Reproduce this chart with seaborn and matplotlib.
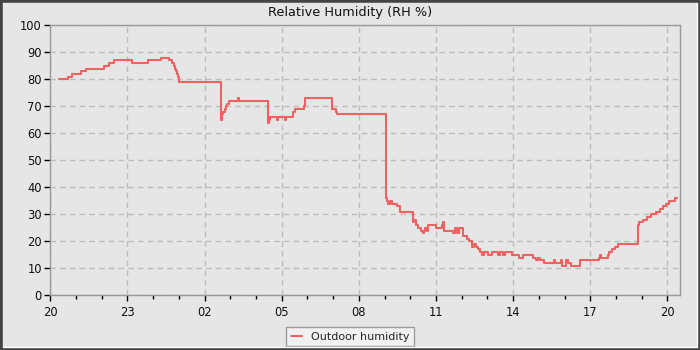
import numpy as np
import pandas as pd
import matplotlib
matplotlib.use("Agg")
import matplotlib.pyplot as plt
import matplotlib.dates as mdates
from matplotlib.patches import Rectangle
from matplotlib.lines import Line2D
import seaborn as sns

# hours since 20:00 on the first day
hours = [0.34, 0.68, 0.86, 1.18, 1.38, 2.10, 2.28, 2.48, 3.19, 3.79, 4.31, 4.63, 4.73, 4.81,
         4.85, 4.89, 4.93, 4.97, 5.00, 5.02, 6.63, 6.66, 6.68, 6.72, 6.80, 6.85, 6.89, 6.95,
         7.28, 7.32, 8.47, 8.51, 8.55, 8.82, 8.86, 9.13, 9.17, 9.43, 9.52, 9.88, 9.92,
         10.96, 11.10, 11.15, 13.06, 13.11, 13.15, 13.21, 13.29, 13.49, 13.60, 14.10, 14.15,
         14.22, 14.29, 14.41, 14.49, 14.54, 14.59, 14.64, 14.67, 14.99, 15.22, 15.29, 15.32,
         15.65, 15.74, 15.82, 15.90, 16.04, 16.20, 16.30, 16.41, 16.48, 16.56, 16.65, 16.71,
         16.79, 16.87, 17.02, 17.18, 17.41, 17.47, 17.61, 17.67, 17.95, 18.23, 18.37, 18.76,
         18.87, 18.96, 19.05, 19.20, 19.57, 19.61, 19.85, 19.89, 20.06, 20.14, 20.24, 20.58,
         21.34, 21.38, 21.42, 21.68, 21.74, 21.84, 21.96, 22.07, 22.86, 22.90, 23.06, 23.21,
         23.36, 23.56, 23.71, 23.82, 23.94, 24.06, 24.31, 24.38]
humidity = [80, 81, 82, 83, 84, 85, 86, 87, 86, 87, 88, 87, 86, 85,
            84, 83, 82, 81, 80, 79, 65, 66, 67, 68, 69, 70, 71, 72,
            73, 72, 64, 65, 66, 65, 66, 65, 66, 68, 69, 70, 73,
            69, 68, 67, 36, 35, 34, 35, 34, 33, 31, 27, 28,
            26, 25, 24, 23, 24, 25, 24, 26, 25, 26, 27, 24,
            23, 25, 23, 25, 22, 21, 20, 18, 19, 18, 17, 16,
            15, 16, 15, 16, 15, 16, 15, 16, 15, 14, 15, 14,
            13, 14, 13, 12, 13, 12, 13, 11, 13, 12, 11, 13,
            14, 15, 14, 15, 16, 17, 18, 19, 26, 27, 28, 29,
            30, 31, 32, 33, 34, 35, 36, 36]

title = "Relative Humidity (RH %)"
series_name = "Outdoor humidity"
y_ticks = list(range(0, 101, 10))

base = pd.Timestamp("2024-05-01 20:00")
df = pd.DataFrame({
    "time": [base + pd.Timedelta(hours=h) for h in hours],
    "humidity": humidity,
})

sns.set_theme(style="ticks")
plt.rcParams["font.family"] = ["DejaVu Sans"]

BG = "#e6e6e6"
LINE = "#f06262"
fig = plt.figure(figsize=(7, 3.5), dpi=100, facecolor=BG)
ax = fig.add_axes([50.3 / 700, 1 - 295.3 / 350, 630 / 700, 270 / 350])
ax.set_facecolor(BG)

sns.lineplot(data=df, x="time", y="humidity", ax=ax, color=LINE, linewidth=1.5,
             drawstyle="steps-post", legend=False)

ax.set_xlim(base, base + pd.Timedelta(hours=24.5))
ax.set_ylim(0, 100)
ax.set_yticks(y_ticks)
ax.xaxis.set_major_locator(mdates.HourLocator(byhour=range(2, 24, 3)))
ax.xaxis.set_minor_locator(mdates.HourLocator())
ax.xaxis.set_major_formatter(mdates.DateFormatter("%H"))
ax.set_xlabel("")
ax.set_ylabel("")

for s in ax.spines.values():
    s.set_visible(True)
    s.set_color("#999999")
    s.set_linewidth(1.0)

ax.grid(True, which="major", color="#bdbdbd", linestyle=(0, (4, 3)), linewidth=1.0)
ax.set_axisbelow(True)
ax.tick_params(axis="both", which="major", length=4, width=1, color="black",
               labelsize=8.3, labelcolor="#111111", pad=2)
ax.tick_params(axis="x", which="major", pad=4)
ax.tick_params(axis="x", which="minor", length=3, width=1, color="black")
ax.tick_params(axis="y", which="minor", length=0)

fig.text(0.5, 1 - 12.5 / 350, title, ha="center", va="center", fontsize=9.3, color="#111111")

handle = Line2D([0], [0], color=LINE, linewidth=1.5)
leg = fig.legend([handle], [series_name], loc="center", bbox_to_anchor=(0.5, 1 - 336.5 / 350),
                 frameon=True, fancybox=False, fontsize=8, handlelength=1.0,
                 handletextpad=0.8, borderpad=0.4)
leg.get_frame().set_facecolor("#f4f4f4")
leg.get_frame().set_edgecolor("#888888")
leg.get_frame().set_linewidth(1.0)

# window border
fig.patches.append(Rectangle((0, 0), 1, 1, transform=fig.transFigure, fill=False,
                             edgecolor="#444444", linewidth=4, zorder=10))
fig.lines.append(Line2D([3 / 700, 1 - 3.5 / 700], [3.5 / 350, 3.5 / 350], transform=fig.transFigure,
                        color="white", linewidth=1, zorder=11))
fig.lines.append(Line2D([1 - 3.5 / 700, 1 - 3.5 / 700], [3.5 / 350, 1 - 2.5 / 350], transform=fig.transFigure,
                        color="white", linewidth=1, zorder=11))

fig.savefig("out.png", dpi=100, facecolor=BG)
